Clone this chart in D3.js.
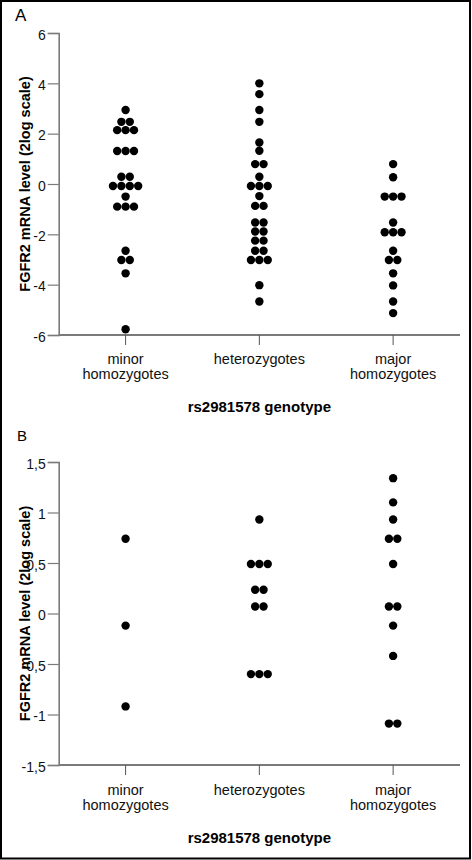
<!DOCTYPE html>
<html>
<head>
<meta charset="utf-8">
<script src="https://cdn.jsdelivr.net/npm/d3@7"></script>
<style>
  html, body { margin: 0; padding: 0; background: #fff; }
  svg { display: block; font-family: "Liberation Sans", Arial, sans-serif; }
</style>
</head>
<body>
<script>
// ---------- DATA ----------
const categories = ["minor", "heterozygotes", "major"];
const categoryLabels = [["minor", "homozygotes"], ["heterozygotes"], ["major", "homozygotes"]];

// Panel A (all samples)
const minorA = [2.94, 2.47, 2.47, 2.14, 2.14, 2.14, 1.31, 1.31, 1.31, 0.29, 0.29,
  -0.08, -0.08, -0.08, -0.08, -0.5, -0.9, -0.9, -0.9, -2.65, -3.02, -3.02, -3.55, -5.77];
const hetA = [4.0, 3.57, 2.94, 2.47, 1.65, 1.32, 0.79, 0.79, 0.29, -0.08, -0.08, -0.08,
  -0.48, -0.87, -0.87, -1.53, -1.53, -1.89, -1.89, -2.25, -2.25, -2.65, -2.65,
  -3.02, -3.02, -3.02, -4.02, -4.67];
const majorA = [0.79, 0.27, -0.5, -0.5, -0.5, -1.53, -1.92, -1.92, -1.92, -2.65,
  -3.02, -3.02, -3.55, -4.03, -4.67, -5.13];
const ticksA = [-6, -4, -2, 0, 2, 4, 6];

// Panel B
const minorB = [0.74, -0.12, -0.92];
const hetB = [0.93, 0.49, 0.49, 0.49, 0.235, 0.235, 0.07, 0.07, -0.60, -0.60, -0.60];
const majorB = [1.34, 1.10, 0.93, 0.74, 0.74, 0.49, 0.07, 0.07, -0.12, -0.42, -1.09, -1.09];
const ticksB = [-1.5, -1, -0.5, 0, 0.5, 1, 1.5];

const yTitle = "FGFR2 mRNA level (2log scale)";
const xTitle = "rs2981578 genotype";

// ---------- LAYOUT ----------
const W = 472, H = 860;
const svg = d3.select("body").append("svg").attr("width", W).attr("height", H);
svg.append("rect").attr("x", 0).attr("y", 0).attr("width", W).attr("height", H).attr("fill", "#fff");
svg.append("rect").attr("x", 1).attr("y", 1).attr("width", 469).attr("height", 857.5)
  .attr("fill", "none").attr("stroke", "#000").attr("stroke-width", 2);

const R = 4.2;
const fmt = v => String(v).replace(".", ",");

function panel(cfg) {
  const g = svg.append("g");
  const x = d3.scaleBand().domain(categories).range([cfg.left, cfg.right]);
  const y = d3.scaleLinear().domain(cfg.domain).range([cfg.bottom, cfg.top]);

  // panel letter
  g.append("text").attr("x", cfg.letterX).attr("y", cfg.letterY)
    .attr("font-size", cfg.letterSize).attr("fill", "#000").text(cfg.letter);

  // y axis
  const yAxis = d3.axisLeft(y).tickValues(cfg.ticks).tickFormat(fmt).tickSize(11).tickPadding(2);
  const ya = g.append("g").attr("transform", `translate(${cfg.left},0)`).call(yAxis);
  ya.select(".domain").attr("stroke", "#7a7a7a").attr("stroke-width", 1.6);
  ya.selectAll(".tick line").attr("stroke", "#7a7a7a").attr("stroke-width", 1.2);
  ya.selectAll(".tick text").attr("font-size", 14).attr("fill", "#111")
    .attr("dy", "0.45em").attr("font-family", "Liberation Sans, Arial, sans-serif");

  // x axis line
  g.append("line").attr("x1", cfg.left).attr("x2", cfg.right)
    .attr("y1", cfg.bottom).attr("y2", cfg.bottom)
    .attr("stroke", "#7a7a7a").attr("stroke-width", 1.8);
  // category ticks
  categories.forEach((c, i) => {
    const cx = x(c) + x.bandwidth() / 2;
    g.append("line").attr("x1", cx).attr("x2", cx)
      .attr("y1", cfg.bottom).attr("y2", cfg.bottom + 10)
      .attr("stroke", "#555").attr("stroke-width", 1);
    const t = g.append("text").attr("text-anchor", "middle")
      .attr("font-size", 14.5).attr("fill", "#111");
    categoryLabels[i].forEach((line, k) => {
      t.append("tspan").attr("x", cx).attr("y", cfg.catY + k * 14.5).text(line);
    });
  });

  // x title
  g.append("text").attr("x", (cfg.left + cfg.right) / 2).attr("y", cfg.xTitleY)
    .attr("text-anchor", "middle").attr("font-size", 15).attr("font-weight", "bold")
    .attr("fill", "#000").text(xTitle);

  // y title
  g.append("text")
    .attr("transform", `translate(30,${(cfg.top + cfg.bottom) / 2}) rotate(-90)`)
    .attr("text-anchor", "middle").attr("font-size", 14.5).attr("font-weight", "bold")
    .attr("fill", "#000").text(yTitle);

  // dots: identical values form a horizontal row of touching dots
  const series = [cfg.minor, cfg.het, cfg.major];
  series.forEach((vals, i) => {
    const cx = x(categories[i]) + x.bandwidth() / 2;
    const groups = d3.groups(vals, v => v);
    const pts = [];
    groups.forEach(([v, arr]) => {
      const n = arr.length;
      arr.forEach((_, j) => pts.push({ v, off: (j - (n - 1) / 2) * 2 * R }));
    });
    g.selectAll(null).data(pts).enter().append("circle")
      .attr("cx", d => cx + d.off)
      .attr("cy", d => y(d.v))
      .attr("r", R)
      .attr("fill", "#000");
  });
}

panel({
  letter: "A", letterX: 15, letterY: 21, letterSize: 17,
  left: 58.7, right: 460, top: 33, bottom: 335, domain: [-6, 6], ticks: ticksA,
  catY: 364, xTitleY: 411.5,
  minor: minorA, het: hetA, major: majorA
});

panel({
  letter: "B", letterX: 17, letterY: 441, letterSize: 15,
  left: 58.7, right: 460, top: 462, bottom: 765, domain: [-1.5, 1.5], ticks: ticksB,
  catY: 795, xTitleY: 842.5,
  minor: minorB, het: hetB, major: majorB
});
</script>
</body>
</html>
